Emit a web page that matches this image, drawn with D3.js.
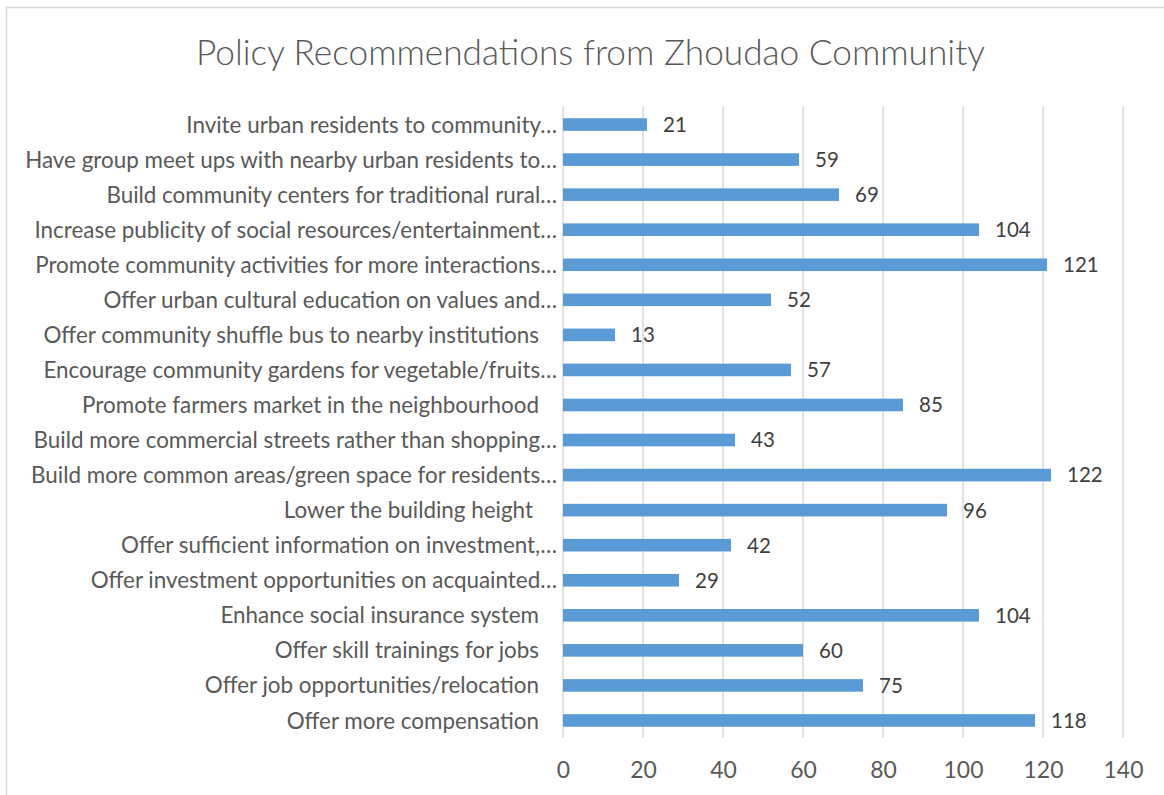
<!DOCTYPE html>
<html><head><meta charset="utf-8">
<script src="https://cdn.jsdelivr.net/npm/d3@7/dist/d3.min.js"></script>
<style>body{margin:0;background:#fff}</style>
</head><body><svg id="c" width="1164" height="795"></svg>
<script>
const title = "Policy Recommendations from Zhoudao Community";
const categories = [
  "Invite urban residents to community…",
  "Have group meet ups with nearby urban residents to…",
  "Build community centers for traditional rural…",
  "Increase publicity of social resources/entertainment…",
  "Promote community activities for more interactions…",
  "Offer urban cultural education on values and…",
  "Offer community shuffle bus to nearby institutions ",
  "Encourage community gardens for vegetable/fruits…",
  "Promote farmers market in the neighbourhood ",
  "Build more commercial streets rather than shopping…",
  "Build more common areas/green space for residents…",
  "Lower the building height  ",
  "Offer sufficient information on investment,…",
  "Offer investment opportunities on acquainted…",
  "Enhance social insurance system ",
  "Offer skill trainings for jobs ",
  "Offer job opportunities/relocation ",
  "Offer more compensation "
];
const values = [21,59,69,104,121,52,13,57,85,43,122,96,42,29,104,60,75,118];
const xTicks = [0,20,40,60,80,100,120,140];

const svg = d3.select("#c");
const FONT = "Lato, 'Open Sans', sans-serif";

svg.append("rect").attr("x",6.5).attr("y",7.5).attr("width",1200).attr("height",900)
  .attr("fill","none").attr("stroke","#D9D9D9").attr("stroke-width",1.5);

const x = d3.scaleLinear().domain([0,140]).range([563,1123]);
const y = d3.scaleBand().domain(categories).range([107,738]).paddingInner(0.64).paddingOuter(0.32);

// gridlines
svg.append("g").selectAll("line").data(xTicks).join("line")
  .attr("x1",d=>x(d)).attr("x2",d=>x(d)).attr("y1",107).attr("y2",738)
  .attr("stroke","#D9D9D9").attr("stroke-width",1.5);

// bars
svg.append("g").selectAll("rect").data(values).join("rect")
  .attr("x",x(0)).attr("y",(d,i)=>y(categories[i]))
  .attr("width",d=>x(d)-x(0)).attr("height",y.bandwidth())
  .attr("fill","#5B9BD5");

// value labels
svg.append("g").selectAll("text").data(values).join("text")
  .attr("x",d=>x(d)+16).attr("y",(d,i)=>y(categories[i])+y.bandwidth()/2)
  .attr("dy","0.36em").attr("font-family",FONT).attr("font-size",20.5)
  .attr("fill","#404040").text(d=>d);

// category labels; trailing spaces shift the visible end leftwards
const trail = d => (d.match(/ +$/)||[""])[0].length;
const cl = svg.append("g").selectAll("text").data(categories).join("text")
  .attr("x",d=>557 - (trail(d) ? 12 + 6*trail(d) : 0))
  .attr("y",d=>y(d)+y.bandwidth()/2).attr("dy","0.36em")
  .attr("text-anchor","end").attr("font-family",FONT).attr("font-size",20)
  .attr("fill","#595959").text(d=>d.trim());
let maxW = 0; cl.each(function(){maxW=Math.max(maxW,this.getComputedTextLength());});
const fs = 20*532/maxW;
cl.attr("font-size",fs);

// x axis tick labels
const xa = svg.append("g").attr("transform","translate(0,738)")
  .call(d3.axisBottom(x).tickValues(xTicks).tickSize(0).tickPadding(24));
xa.select(".domain").remove();
xa.selectAll("text").attr("font-family",FONT).attr("font-size",fs+0.5).attr("fill","#595959");

// title
const t = svg.append("text").attr("x",590.5).attr("y",52).attr("dy","0.36em")
  .attr("text-anchor","middle").attr("font-family",FONT).attr("font-weight",300)
  .attr("font-size",32).attr("fill","#595959").text(title);
const tw = t.node().getComputedTextLength();
t.attr("font-size",32*789/tw);
</script></body></html>
